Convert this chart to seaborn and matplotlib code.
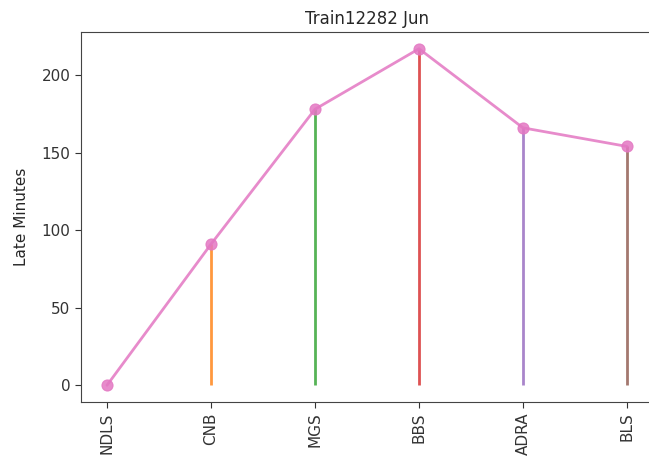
import pandas as pd
import matplotlib
matplotlib.use("Agg")
import matplotlib.pyplot as plt
import seaborn as sns

# stations along the route and late minutes at each one
stations = ["NDLS", "CNB", "MGS", "BBS", "ADRA", "BLS"]
late_minutes = [0, 91, 178, 217, 166, 154]

sns.set_style("ticks")
plt.rcParams["font.family"] = ["DejaVu Sans"]

df = pd.DataFrame({"pos": range(len(stations)), "station": stations, "late": late_minutes})

fig = plt.figure(figsize=(6.49, 4.68), dpi=100)
ax = fig.add_axes([81 / 649, 66 / 468, 572 / 649, 370 / 468])

# coloured drop lines from zero to each station's delay
tab = sns.color_palette("tab10")
ax.vlines(df["pos"], 0, df["late"], colors=tab[:len(stations)], linewidth=2, alpha=0.8)

# delay profile
sns.lineplot(data=df, x="pos", y="late", color=tab[6], linewidth=2, alpha=0.85,
             marker="o", markersize=8, markeredgecolor=tab[6], ax=ax)

ax.set_xticks(df["pos"])
ax.set_xticklabels(stations, rotation=90)
ax.set_xlim(-0.25, 5.25)
ax.set_ylim(-10.8, 227.8)
ax.set_xlabel("")
ax.set_ylabel("Late Minutes", fontsize=11, labelpad=9)
ax.set_title("Train12282 Jun", fontsize=12)
ax.tick_params(labelsize=11, colors="#333333", length=4)
for s in ax.spines.values():
    s.set_color("#444444")

fig.savefig("out.png", dpi=100)
